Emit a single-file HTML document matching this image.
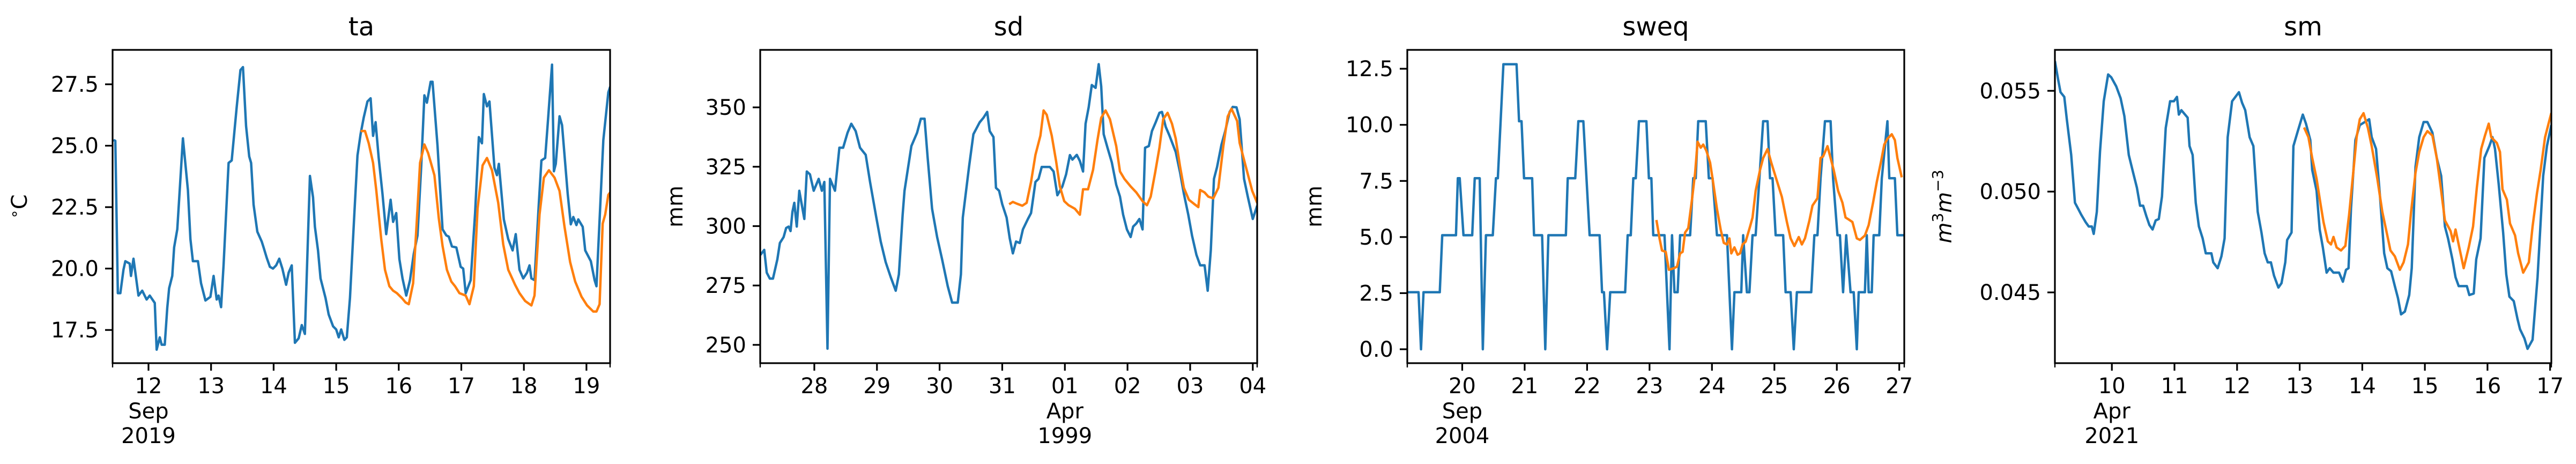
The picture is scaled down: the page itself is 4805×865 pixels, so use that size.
<!DOCTYPE html>
<html><head><meta charset="utf-8">
<style>
html,body{margin:0;padding:0;background:#fff;}
svg{display:block;font-family:"DejaVu Sans","Liberation Sans",sans-serif;}
</style></head>
<body>
<svg id="fig" width="4805" height="865" viewBox="0 0 4805 865" xmlns="http://www.w3.org/2000/svg"></svg>
<script>
// ---- ta (Sep 2019, day of month) ----
const taObsT=[11.44,11.47,11.51,11.55,11.6,11.63,11.7,11.72,11.76,11.84,11.9,11.97,12.02,12.1,12.13,12.18,12.21,12.26,12.3,12.33,12.38,12.41,12.46,12.55,12.63,12.67,12.71,12.79,12.84,12.91,12.99,13.04,13.09,13.12,13.16,13.2,13.28,13.33,13.41,13.47,13.51,13.56,13.61,13.64,13.68,13.74,13.81,13.84,13.89,13.94,13.99,14.04,14.09,14.14,14.2,14.24,14.29,14.34,14.4,14.45,14.5,14.58,14.63,14.66,14.71,14.75,14.83,14.88,14.95,15.0,15.04,15.08,15.13,15.17,15.22,15.29,15.34,15.39,15.44,15.5,15.55,15.59,15.63,15.68,15.74,15.8,15.87,15.91,15.96,16.01,16.06,16.12,16.18,16.24,16.3,16.36,16.41,16.45,16.51,16.54,16.62,16.7,16.76,16.8,16.85,16.92,16.99,17.03,17.07,17.15,17.22,17.28,17.33,17.36,17.41,17.45,17.53,17.57,17.6,17.68,17.75,17.82,17.87,17.93,17.99,18.05,18.09,18.12,18.17,18.24,18.28,18.34,18.38,18.45,18.48,18.51,18.57,18.61,18.7,18.75,18.79,18.84,18.87,18.94,18.98,19.07,19.13,19.16,19.27,19.35,19.38];
const taObsV=[25.23,25.2,19.0,19.0,19.95,20.3,20.2,19.7,20.4,18.9,19.1,18.74,18.9,18.6,16.7,17.2,16.9,16.9,18.4,19.2,19.7,20.86,21.6,25.3,23.2,21.2,20.3,20.3,19.4,18.7,18.85,19.7,18.74,18.9,18.43,20.13,24.3,24.4,26.57,28.08,28.2,25.8,24.56,24.3,22.6,21.5,21.1,20.86,20.44,20.07,20.0,20.13,20.4,20.0,19.34,19.83,20.13,16.98,17.16,17.7,17.34,23.77,22.9,21.7,20.74,19.6,18.8,18.13,17.65,17.52,17.2,17.52,17.1,17.2,18.8,22.2,24.6,25.47,26.14,26.8,26.93,25.4,25.96,24.5,23.05,21.4,22.8,21.9,22.26,20.38,19.6,18.9,19.53,20.6,21.35,24.2,27.05,26.75,27.6,27.6,25.0,21.6,21.35,21.3,20.9,20.86,20.07,20.0,19.0,19.53,22.26,25.35,25.1,27.1,26.6,26.8,24.1,23.8,24.26,22.0,21.2,20.74,21.4,19.95,19.6,19.83,20.13,19.6,19.53,22.7,24.4,24.5,25.84,28.3,23.96,24.26,26.2,25.84,23.05,21.8,22.1,21.77,22.0,21.7,20.74,20.3,19.53,19.28,25.23,27.17,27.4];
const taPredT=[15.39,15.46,15.52,15.59,15.64,15.72,15.78,15.85,15.91,15.97,16.05,16.11,16.16,16.23,16.3,16.34,16.41,16.47,16.57,16.64,16.7,16.77,16.84,16.9,16.97,17.07,17.13,17.2,17.26,17.34,17.41,17.49,17.59,17.67,17.75,17.86,17.93,18.02,18.12,18.17,18.25,18.32,18.4,18.49,18.57,18.65,18.74,18.82,18.92,19.01,19.11,19.16,19.21,19.26,19.3,19.35,19.38];
const taPredV=[25.6,25.6,25.1,24.3,23.2,21.2,19.95,19.28,19.1,19.0,18.8,18.62,18.55,19.4,22.44,24.3,25.05,24.7,23.8,22.04,20.92,19.95,19.47,19.28,19.0,18.9,18.55,19.28,22.44,24.2,24.5,24.0,22.68,20.98,19.95,19.34,19.0,18.68,18.5,18.9,22.2,23.7,24.0,23.7,23.16,21.7,20.26,19.47,18.86,18.5,18.25,18.25,18.55,21.83,22.2,23.0,23.1];
const taXTicks=[12,13,14,15,16,17,18,19];
const taXLabels=["12","13","14","15","16","17","18","19"];
const taYTicks=[17.5,20.0,22.5,25.0,27.5];
const taYLabels=["17.5","20.0","22.5","25.0","27.5"];

// ---- sd (days after 28 Mar 1999) ----
const sdObsT=[-0.86,-0.8,-0.76,-0.71,-0.66,-0.59,-0.55,-0.49,-0.45,-0.41,-0.38,-0.35,-0.32,-0.28,-0.24,-0.16,-0.12,-0.07,-0.01,0.07,0.12,0.16,0.21,0.25,0.33,0.4,0.46,0.53,0.59,0.66,0.73,0.82,0.89,0.99,1.06,1.14,1.22,1.3,1.35,1.41,1.44,1.48,1.55,1.64,1.7,1.76,1.81,1.88,1.96,2.04,2.13,2.2,2.29,2.34,2.37,2.47,2.54,2.64,2.7,2.76,2.8,2.86,2.9,2.95,3.0,3.07,3.12,3.17,3.22,3.28,3.33,3.41,3.46,3.53,3.58,3.63,3.76,3.82,3.88,3.96,4.02,4.08,4.12,4.19,4.24,4.29,4.33,4.38,4.43,4.49,4.54,4.58,4.62,4.68,4.75,4.82,4.88,4.93,4.99,5.05,5.09,5.14,5.19,5.24,5.28,5.34,5.39,5.45,5.51,5.55,5.61,5.67,5.77,5.84,5.9,5.97,6.03,6.1,6.16,6.23,6.28,6.33,6.38,6.43,6.5,6.56,6.63,6.68,6.74,6.79,6.86,6.92,7.0,7.07];
const sdObsV=[287.9,290,280.4,277.9,277.9,286,292.9,295.4,299.2,299.8,297.9,306,309.8,299.8,314.9,303,323,321.8,314.9,319.9,314.9,318.6,248.4,319.9,314.9,333,333,339.3,343.1,340,333,330,318.6,303.6,293.5,284.8,278.5,272.8,279.7,304.8,314.9,321.8,333.7,339.3,345.2,345.2,328.7,307.3,295.4,286,274.7,267.8,267.8,279.7,303.6,324.9,338.7,343.7,345.6,348.1,340,337.5,316.1,314.9,309.2,303.6,294.8,288.5,293.5,292.9,298.6,303,305.5,318.6,319.9,324.9,324.9,323,313,316.7,321.8,329.9,328,330,327.4,323,343.1,350,359.4,358.2,368.2,358.8,338.7,333,326.8,317.4,312.4,304.8,298.6,295.4,299.8,301.1,303,298.6,333,333.7,340,343.7,347.7,348.1,341.8,338.1,331.2,322.4,313.6,304.8,296,287.9,283.5,283.5,272.8,289.8,319.9,324.9,334.3,340,348.1,350.2,350,345,319.9,312.4,303,308.6];
const sdPredT=[3.11,3.17,3.23,3.32,3.39,3.46,3.53,3.61,3.66,3.71,3.79,3.86,3.92,3.99,4.06,4.16,4.24,4.29,4.37,4.45,4.52,4.58,4.65,4.72,4.82,4.88,4.95,5.05,5.14,5.24,5.31,5.37,5.44,5.51,5.57,5.64,5.71,5.77,5.84,5.9,5.98,6.07,6.13,6.16,6.23,6.29,6.37,6.45,6.53,6.6,6.66,6.75,6.79,6.89,6.99,7.07];
const sdPredV=[309.2,310.2,309.5,308.6,309.8,318.6,330,338.1,348.7,346.9,338.1,327.4,316.7,310.5,308.8,307.3,304.8,315.5,315.5,323.7,336.2,345.6,348.7,345,333.7,323,319.9,316.7,314.2,310.5,308.8,312.4,322.4,333,345,347.7,343.1,336.8,324.9,316.1,311.1,309.2,308,315.2,314.2,312.4,311.7,316.1,333.7,346.2,349.4,344.3,335,324.9,314.9,309.8];
const sdXTicks=[0,1,2,3,4,5,6,7];
const sdXLabels=["28","29","30","31","01","02","03","04"];
const sdYTicks=[250,275,300,325,350];
const sdYLabels=["250","275","300","325","350"];

// ---- sweq (Sep 2004, day of month) ----
const swObsT=[19.12,19.3,19.34,19.38,19.64,19.68,19.9,19.93,19.96,20.02,20.16,20.2,20.28,20.33,20.38,20.49,20.54,20.57,20.66,20.87,20.91,20.95,20.99,21.12,21.15,21.28,21.33,21.38,21.66,21.69,21.81,21.86,21.94,22.04,22.2,22.24,22.27,22.32,22.37,22.61,22.65,22.7,22.74,22.78,22.83,22.95,22.99,23.03,23.06,23.24,23.32,23.36,23.4,23.45,23.49,23.65,23.7,23.74,23.78,23.9,23.95,24.01,24.08,24.24,24.32,24.36,24.47,24.5,24.56,24.6,24.65,24.7,24.76,24.82,24.89,24.93,24.97,25.02,25.14,25.18,25.26,25.31,25.36,25.59,25.64,25.69,25.74,25.81,25.9,25.94,26.01,26.05,26.1,26.15,26.22,26.27,26.32,26.35,26.45,26.48,26.51,26.56,26.59,26.68,26.72,26.81,26.84,26.93,26.97,27.08];
const swObsV=[2.54,2.54,0,2.54,2.54,5.08,5.08,7.62,7.62,5.08,5.08,7.62,7.62,0,5.08,5.08,7.62,7.62,12.7,12.7,10.16,10.16,7.62,7.62,5.08,5.08,0,5.08,5.08,7.62,7.62,10.16,10.16,5.08,5.08,2.54,2.54,0,2.54,2.54,5.08,5.08,7.62,7.62,10.16,10.16,7.62,7.62,5.08,5.08,0,5.08,2.54,2.54,5.08,5.08,7.62,7.62,10.16,10.16,7.62,7.62,5.08,5.08,0,2.54,2.54,5.08,2.54,2.54,5.08,5.08,7.62,10.16,10.16,7.62,7.62,5.08,5.08,2.54,2.54,0,2.54,2.54,5.08,5.08,7.62,10.16,10.16,7.62,5.08,5.08,2.54,5.08,2.54,2.54,0,2.54,2.54,5.08,2.54,2.54,5.08,5.08,7.62,10.16,7.62,7.62,5.08,5.08];
const swPredT=[23.11,23.16,23.2,23.26,23.31,23.39,23.44,23.49,23.53,23.57,23.62,23.68,23.73,23.77,23.82,23.86,23.91,23.97,24.01,24.08,24.14,24.19,24.24,24.28,24.31,24.36,24.41,24.45,24.49,24.54,24.61,24.65,24.7,24.77,24.82,24.89,24.95,25.03,25.12,25.2,25.26,25.32,25.39,25.44,25.49,25.56,25.61,25.69,25.74,25.78,25.85,25.9,25.95,26.02,26.09,26.14,26.18,26.25,26.32,26.37,26.45,26.51,26.58,26.64,26.71,26.76,26.81,26.88,26.93,26.97,27.04];
const swPredV=[5.76,4.94,4.4,4.34,3.54,3.61,3.68,4.27,4.34,5.2,5.4,6.66,7.86,9.25,8.98,9.12,8.85,8.32,7.59,6.26,5.33,4.74,4.67,4.94,4.27,4.54,4.21,4.27,4.67,4.8,5.47,5.87,7.06,7.99,8.52,8.92,8.32,7.59,6.79,5.67,4.94,4.6,5.0,4.67,4.94,5.73,6.4,6.73,8.52,8.59,9.05,8.52,7.99,7.06,6.53,5.87,5.8,5.67,4.94,4.87,5.07,5.53,6.53,7.46,8.39,9.12,9.38,9.58,9.32,8.52,7.66];
const swXTicks=[20,21,22,23,24,25,26,27];
const swXLabels=["20","21","22","23","24","25","26","27"];
const swYTicks=[0,2.5,5,7.5,10,12.5];
const swYLabels=["0.0","2.5","5.0","7.5","10.0","12.5"];

// ---- sm (Apr 2021, day of month) ----
const smObsT=[9.09,9.14,9.18,9.24,9.28,9.35,9.41,9.46,9.51,9.58,9.63,9.68,9.71,9.76,9.81,9.87,9.94,9.99,10.07,10.14,10.2,10.27,10.34,10.4,10.45,10.5,10.55,10.6,10.65,10.7,10.75,10.8,10.86,10.93,10.99,11.04,11.07,11.11,11.21,11.24,11.29,11.34,11.39,11.45,11.5,11.59,11.62,11.69,11.75,11.8,11.85,11.92,12.03,12.08,12.13,12.2,12.26,12.33,12.39,12.44,12.49,12.54,12.59,12.66,12.71,12.77,12.8,12.87,12.9,12.97,13.05,13.1,13.17,13.2,13.27,13.32,13.37,13.43,13.48,13.54,13.63,13.69,13.74,13.78,13.82,13.89,13.96,14.04,14.11,14.15,14.22,14.28,14.35,14.4,14.46,14.52,14.57,14.62,14.68,14.75,14.79,14.85,14.91,14.98,15.04,15.12,15.19,15.26,15.32,15.37,15.44,15.49,15.54,15.67,15.71,15.78,15.82,15.89,15.95,16.03,16.08,16.12,16.18,16.25,16.3,16.35,16.42,16.48,16.52,16.59,16.64,16.72,16.8,16.89,16.95,17.02];
const smObsV=[0.05648,0.05559,0.05493,0.0547,0.05359,0.05182,0.04945,0.04916,0.04886,0.04849,0.04827,0.04827,0.0479,0.049,0.05197,0.05448,0.05581,0.05567,0.05522,0.05463,0.05374,0.05182,0.05093,0.05019,0.0493,0.0493,0.04879,0.04834,0.04812,0.04857,0.04864,0.04975,0.05315,0.05448,0.05448,0.0547,0.05382,0.05404,0.05367,0.05226,0.05182,0.04945,0.04827,0.04768,0.04694,0.04694,0.04649,0.0462,0.04679,0.04768,0.0527,0.05448,0.05493,0.05441,0.05404,0.0527,0.05226,0.049,0.04797,0.04694,0.04649,0.04649,0.04583,0.04524,0.04546,0.04649,0.0476,0.04797,0.05226,0.053,0.05382,0.05337,0.05256,0.05108,0.05004,0.04812,0.04723,0.04598,0.0462,0.04598,0.04598,0.04553,0.04612,0.0462,0.04916,0.05256,0.0533,0.05345,0.05359,0.0527,0.05212,0.0499,0.04694,0.0462,0.04605,0.04531,0.04472,0.04391,0.04405,0.04487,0.0462,0.05123,0.0527,0.05345,0.05345,0.05293,0.05167,0.05078,0.04827,0.04768,0.04664,0.04575,0.04531,0.04531,0.04487,0.04494,0.04664,0.04768,0.05167,0.05226,0.0527,0.05212,0.05034,0.04797,0.0459,0.04479,0.04457,0.04368,0.04317,0.04272,0.0422,0.04265,0.04575,0.05078,0.05226,0.0533];
const smPredT=[13.07,13.14,13.2,13.27,13.33,13.38,13.45,13.5,13.54,13.59,13.66,13.73,13.79,13.86,13.91,13.96,14.02,14.09,14.15,14.24,14.32,14.38,14.45,14.52,14.6,14.66,14.73,14.78,14.85,14.91,14.98,15.04,15.12,15.19,15.26,15.32,15.41,15.45,15.49,15.56,15.62,15.7,15.77,15.83,15.9,15.96,16.02,16.06,16.15,16.2,16.24,16.31,16.36,16.44,16.49,16.57,16.66,16.72,16.79,16.85,16.92,17.0,17.02];
const smPredV=[0.05318,0.0527,0.05167,0.05064,0.04945,0.04849,0.04753,0.04738,0.04775,0.04723,0.04708,0.04731,0.04886,0.05108,0.0527,0.05359,0.05389,0.05315,0.05226,0.05064,0.049,0.04812,0.04708,0.04679,0.04612,0.04649,0.04738,0.049,0.05093,0.05197,0.0527,0.053,0.05278,0.05167,0.05004,0.04857,0.04805,0.04753,0.04812,0.04708,0.0462,0.04723,0.04827,0.05019,0.05212,0.05278,0.05337,0.0527,0.05241,0.05197,0.05012,0.0496,0.04842,0.04783,0.04694,0.04598,0.04649,0.04827,0.0499,0.05108,0.0527,0.05367,0.0539];
const smXTicks=[10,11,12,13,14,15,16,17];
const smXLabels=["10","11","12","13","14","15","16","17"];
const smYTicks=[0.045,0.050,0.055];
const smYLabels=["0.045","0.050","0.055"];

const NS="http://www.w3.org/2000/svg";
const svg=document.getElementById('fig');
function mk(tag,attrs,parent){const e=document.createElementNS(NS,tag);for(const k in attrs)e.setAttribute(k,attrs[k]);(parent||svg).appendChild(e);return e;}

const TOP=93,BOT=677;
const panels=[
 {key:'ta',title:'ta',L:210,R:1138,x0:11.426,x1:19.378,y0:16.15,y1:28.9,obsT:taObsT,obsV:taObsV,prT:taPredT,prV:taPredV,xt:taXTicks,xl:taXLabels,yt:taYTicks,yl:taYLabels,sub:[12,'Sep','2019'],ylab:'°C',ylx:50},
 {key:'sd',title:'sd',L:1418,R:2345,x0:-0.864,x1:7.07,y0:242.3,y1:374.2,obsT:sdObsT,obsV:sdObsV,prT:sdPredT,prV:sdPredV,xt:sdXTicks,xl:sdXLabels,yt:sdYTicks,yl:sdYLabels,sub:[4,'Apr','1999'],ylab:'mm',ylx:1273},
 {key:'sweq',title:'sweq',L:2625,R:3552,x0:19.12,x1:27.08,y0:-0.62,y1:13.34,obsT:swObsT,obsV:swObsV,prT:swPredT,prV:swPredV,xt:swXTicks,xl:swXLabels,yt:swYTicks,yl:swYLabels,sub:[20,'Sep','2004'],ylab:'mm',ylx:2465},
 {key:'sm',title:'sm',L:3833,R:4759,x0:9.09,x1:17.02,y0:0.04149,y1:0.05703,obsT:smObsT,obsV:smObsV,prT:smPredT,prV:smPredV,xt:smXTicks,xl:smXLabels,yt:smYTicks,yl:smYLabels,sub:[10,'Apr','2021'],ylab:'m3m-3',ylx:3640}
];

panels.forEach(p=>{
  const g=mk('g',{});
  
  
  const xs=t=>p.L+(t-p.x0)/(p.x1-p.x0)*(p.R-p.L);
  const ys=v=>BOT-(v-p.y0)/(p.y1-p.y0)*(BOT-TOP);
  const cp=mk('clipPath',{id:'clip-'+p.key},g);
  mk('rect',{x:p.L,y:TOP,width:p.R-p.L,height:BOT-TOP},cp);
  const line=(T,V,color,name)=>{
    const d=T.map((t,i)=>(i?'L':'M')+xs(t).toFixed(1)+' '+ys(V[i]).toFixed(1)).join(' ');
    const e=mk('path',{d:d,fill:'none',stroke:color,'stroke-width':4.5,'stroke-linejoin':'round','clip-path':'url(#clip-'+p.key+')'},g);
    
    
  };
  line(p.obsT,p.obsV,'#1f77b4',p.key+'-observed-line');
  line(p.prT,p.prV,'#ff7f0e',p.key+'-predicted-line');
  const fr=mk('rect',{x:p.L,y:TOP,width:p.R-p.L,height:BOT-TOP,fill:'none',stroke:'#000','stroke-width':3.2},g);
  
  
  // x ticks
  p.xt.forEach((t,i)=>{
    const x=xs(t);
    mk('line',{x1:x,y1:BOT,x2:x,y2:BOT+14,stroke:'#000','stroke-width':3.2},g);
    const tx=mk('text',{x:x,y:733,'font-size':40,'text-anchor':'middle',fill:'#000'},g);
    tx.textContent=p.xl[i];
    
    
  });
  [p.L,p.R].forEach(x=>mk('line',{x1:x,y1:BOT,x2:x,y2:BOT+8,stroke:'#000','stroke-width':2.4},g));
  const sx=xs(p.sub[0]);
  const s1=mk('text',{x:sx,y:780,'font-size':40,'text-anchor':'middle',fill:'#000'},g);
  s1.textContent=p.sub[1];
  
  
  const s2=mk('text',{x:sx,y:826,'font-size':40,'text-anchor':'middle',fill:'#000'},g);
  s2.textContent=p.sub[2];
  
  
  // y ticks
  p.yt.forEach((v,i)=>{
    const y=ys(v);
    mk('line',{x1:p.L-14,y1:y,x2:p.L,y2:y,stroke:'#000','stroke-width':3.2},g);
    const tx=mk('text',{x:p.L-26,y:y+14,'font-size':40,'text-anchor':'end',fill:'#000'},g);
    tx.textContent=p.yl[i];
    
    
  });
  const tt=mk('text',{x:(p.L+p.R)/2,y:66,'font-size':48,'text-anchor':'middle',fill:'#000'},g);
  tt.textContent=p.title;
  
  
  const cy=385;
  const yl=mk('text',{x:p.ylx,y:cy,'font-size':40,'text-anchor':'middle',fill:'#000',transform:'rotate(-90 '+p.ylx+' '+cy+')'},g);
  if(p.ylab==='m3m-3'){
    yl.setAttribute('font-style','italic');
    yl.innerHTML='m<tspan font-size="28" dy="-16" font-style="normal">3</tspan><tspan dy="16">m</tspan><tspan font-size="28" dy="-16" font-style="normal">−3</tspan>';
  } else if(p.ylab==='°C'){
    yl.innerHTML='<tspan font-size="28" dy="-14">∘</tspan><tspan dy="14">C</tspan>';
  } else yl.textContent=p.ylab;
  
  
});
</script>
</body></html>
